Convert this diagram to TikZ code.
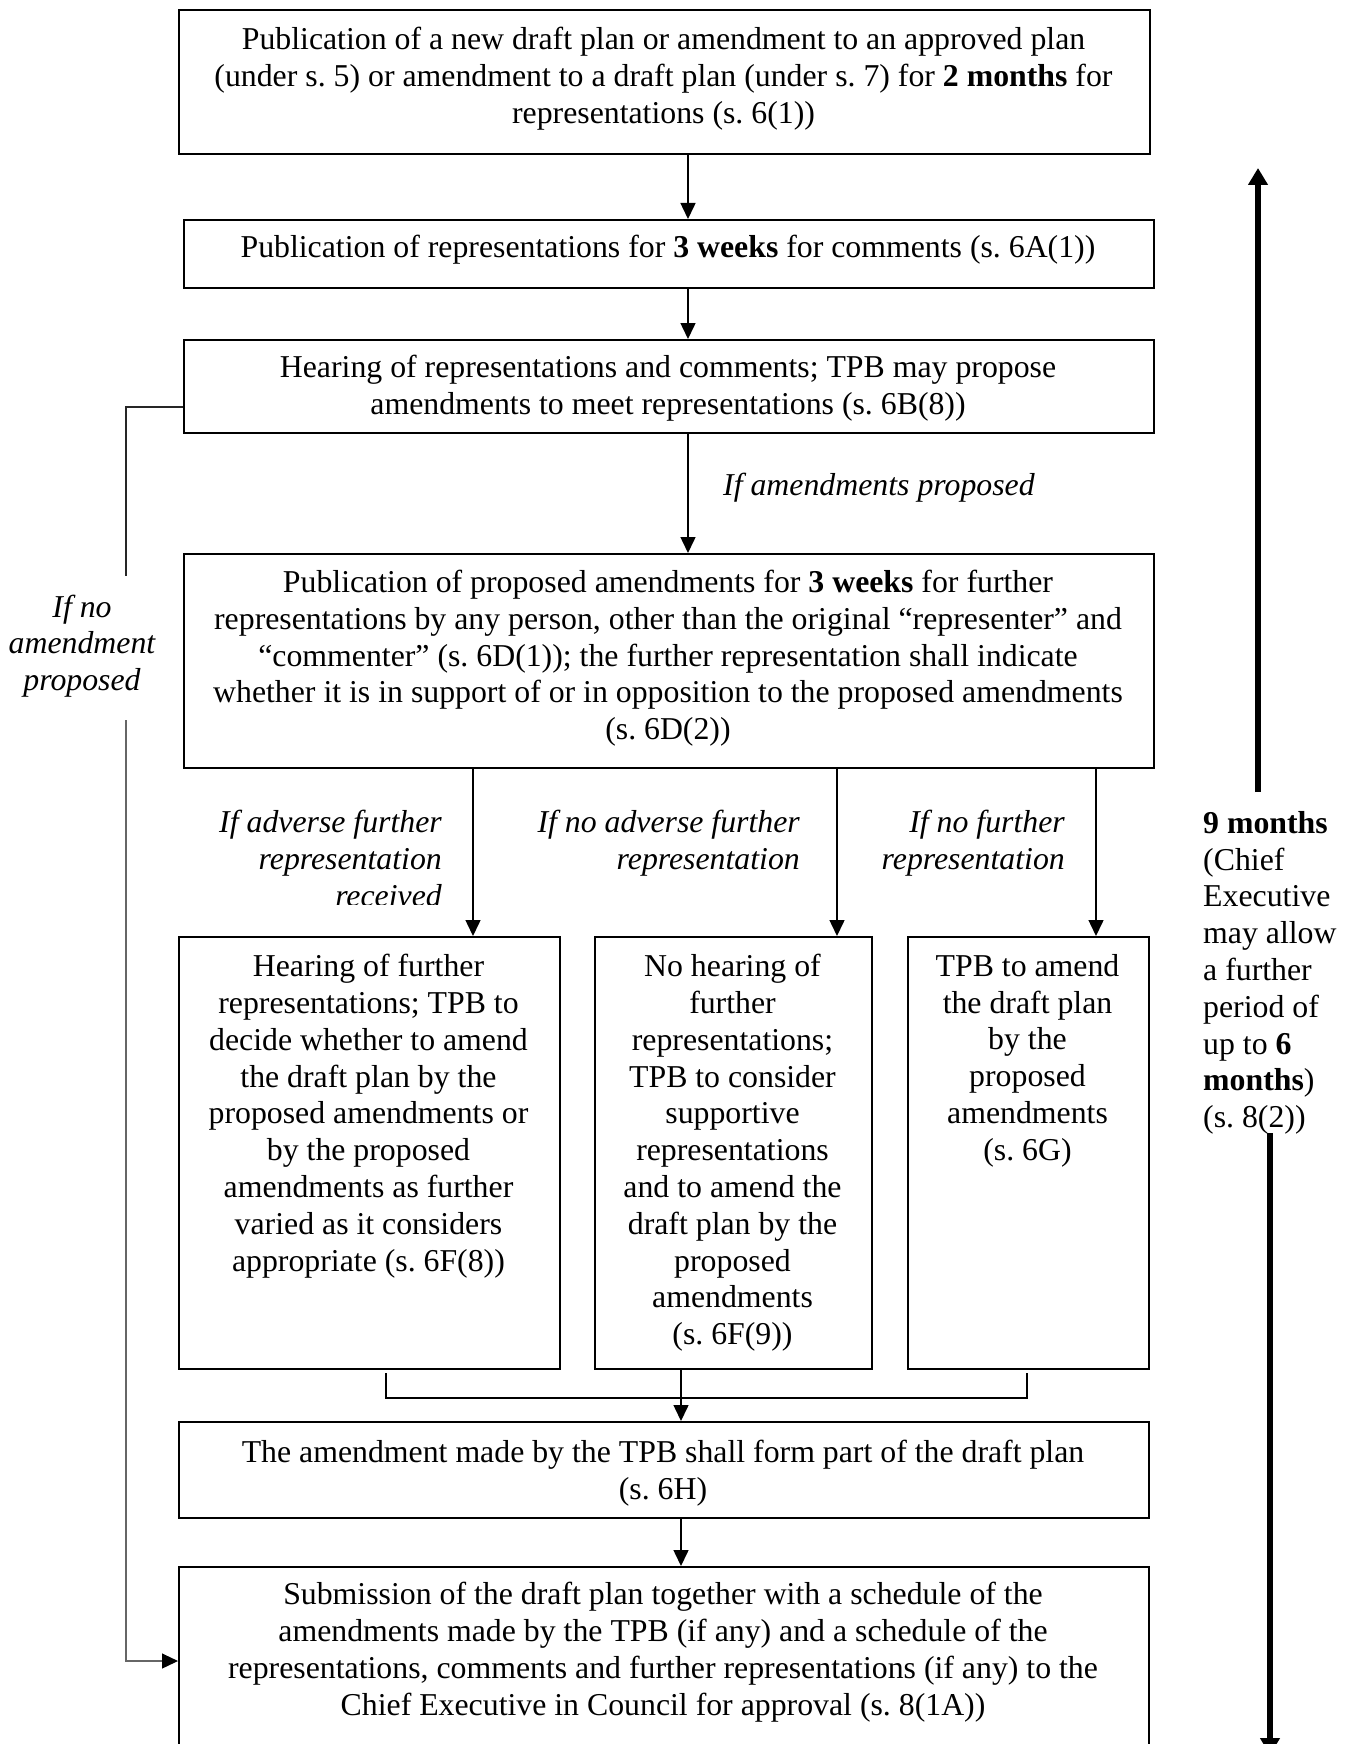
\documentclass[tikz,border=0pt]{standalone}
\usepackage{fontspec}
\setmainfont{Liberation Serif}
\usetikzlibrary{arrows.meta}
\newcommand\flowfont{\fontsize{31.8}{36.8}\selectfont}
\tikzset{
  stagebox/.style={draw, line width=2.2pt, anchor=north west, inner sep=0pt},
  stagetext/.style={anchor=north, inner sep=0pt, align=center, font=\flowfont},
  condtext/.style={inner sep=0pt, font=\flowfont\itshape},
  flow/.style={line width=1.5pt, -{Triangle[length=16pt,width=15pt]}},
  timeline/.style={line width=6.5pt, -{Triangle[length=17pt,width=19pt]}},
}

\begin{document}
\begin{tikzpicture}[x=1pt,y=-1pt]
  \useasboundingbox (0,0) rectangle (1353,1744);
  % main column
  \node[stagebox, minimum width=971, minimum height=144] (pubdraft) at (178,9) {};
  \node[stagetext] (pubdrafttext) at (663.5,27)
    {Publication of a new draft plan or amendment to an approved plan\\
     (under s.~5) or amendment to a draft plan (under s.~7) for \textbf{2 months} for\\
     representations (s.~6(1))};
  \node[stagebox, minimum width=970, minimum height=68] (pubreps) at (183,219) {};
  \node[stagetext] (pubrepstext) at (668,235)
    {Publication of representations for \textbf{3 weeks} for comments (s.~6A(1))};
  \node[stagebox, minimum width=970, minimum height=93] (hearing) at (183,339) {};
  \node[stagetext] (hearingtext) at (668,355)
    {Hearing of representations and comments; TPB may propose\\
     amendments to meet representations (s.~6B(8))};
  \node[stagebox, minimum width=970, minimum height=214] (pubamend) at (183,553) {};
  \node[stagetext] (pubamendtext) at (668,570)
    {Publication of proposed amendments for \textbf{3 weeks} for further\\
     representations by any person, other than the original “representer” and\\
     “commenter” (s.~6D(1)); the further representation shall indicate\\
     whether it is in support of or in opposition to the proposed amendments\\
     (s.~6D(2))};
  % three branches
  \node[stagebox, minimum width=381, minimum height=432] (furtherhear) at (178,936) {};
  \node[stagetext] (furtherheartext) at (368.5,954)
    {Hearing of further\\ representations; TPB to\\ decide whether to amend\\
     the draft plan by the\\ proposed amendments or\\ by the proposed\\
     amendments as further\\ varied as it considers\\ appropriate (s.~6F(8))};
  \node[stagebox, minimum width=277, minimum height=432] (nohear) at (594,936) {};
  \node[stagetext] (noheartext) at (732.5,954)
    {No hearing of\\ further\\ representations;\\ TPB to consider\\ supportive\\
     representations\\ and to amend the\\ draft plan by the\\ proposed\\
     amendments\\ (s.~6F(9))};
  \node[stagebox, minimum width=241, minimum height=432] (amenddirect) at (907,936) {};
  \node[stagetext] (amenddirecttext) at (1027.5,954)
    {TPB to amend\\ the draft plan\\ by the\\ proposed\\ amendments\\ (s.~6G)};
  \node[stagebox, minimum width=970, minimum height=96] (formpart) at (178,1421) {};
  \node[stagetext] (formparttext) at (663,1440)
    {The amendment made by the TPB shall form part of the draft plan\\ (s.~6H)};
  \node[stagebox, minimum width=970, minimum height=220] (submit) at (178,1566) {};
  \node[stagetext] (submittext) at (663,1582)
    {Submission of the draft plan together with a schedule of the\\
     amendments made by the TPB (if any) and a schedule of the\\
     representations, comments and further representations (if any) to the\\
     Chief Executive in Council for approval (s.~8(1A))};

  % conditions
  \node[condtext, anchor=west] (ifamend) at (723,488) {If amendments proposed};
  \begin{scope}
    \clip (200,790) rectangle (460,904);
    \node[condtext, anchor=north east, align=right] (ifadverse) at (442,810)
      {If adverse further\\ representation\\ received};
  \end{scope}
  \node[condtext, anchor=north east, align=right] (ifnoadverse) at (800,810)
    {If no adverse further\\ representation};
  \node[condtext, anchor=north east, align=right] (ifnofurther) at (1065,810)
    {If no further\\ representation};
  \node[condtext, align=center] (ifnoamend) at (82,646)
    {If no\\ amendment\\ proposed};

  % connectors
  \coordinate (spine) at (688,0);
  \coordinate (midline) at (681,0);
  \coordinate (xadverse) at (473,0);
  \coordinate (xnoadverse) at (837,0);
  \coordinate (xnofurther) at (1096,0);
  \draw[flow] (pubdraft.south -| spine) -- (pubreps.north -| spine);
  \draw[flow] (pubreps.south -| spine) -- (hearing.north -| spine);
  \draw[flow] (hearing.south -| spine) -- (pubamend.north -| spine);
  \draw[flow] (pubamend.south -| xadverse) -- (furtherhear.north -| xadverse);
  \draw[flow] (pubamend.south -| xnoadverse) -- (nohear.north -| xnoadverse);
  \draw[flow] (pubamend.south -| xnofurther) -- (amenddirect.north -| xnofurther);
  \coordinate (joinleft) at (386,1373);
  \coordinate (joinright) at (1027,1373);
  \draw[line width=1.5pt] (joinleft) -- ++(0,25) -| (joinright);
  \draw[flow] (nohear.south -| midline) -- (formpart.north -| midline);
  \draw[flow] (formpart.south -| midline) -- (submit.north -| midline);

  % no amendment loop
  \coordinate (loopstart) at (0,407);
  \coordinate (loopabove) at (126,576);
  \coordinate (loopbelow) at (126,720);
  \coordinate (loopend) at (0,1661);
  \draw[line width=2pt, black!85] (hearing.west |- loopstart) -| (loopabove);
  \draw[line width=1.2pt, black!60, -{Triangle[length=16pt,width=15pt,color=black]}]
    (loopbelow) |- (submit.west |- loopend);

  % time limit
  \node[anchor=north west, inner sep=0pt, align=left, font=\flowfont] (period) at (1203,811)
    {\textbf{9 months}\\ (Chief\\ Executive\\ may allow\\ a further\\ period of\\
     up to \textbf{6}\\ \textbf{months})\\ (s.~8(2))};
  \coordinate (upstart) at (1258,792);
  \coordinate (uptip) at (1258,168);
  \coordinate (downstart) at (1270,1133);
  \coordinate (downtip) at (1270,1755);
  \draw[timeline] (upstart) -- (uptip);
  \draw[timeline] (downstart) -- (downtip);
\end{tikzpicture}
\end{document}
